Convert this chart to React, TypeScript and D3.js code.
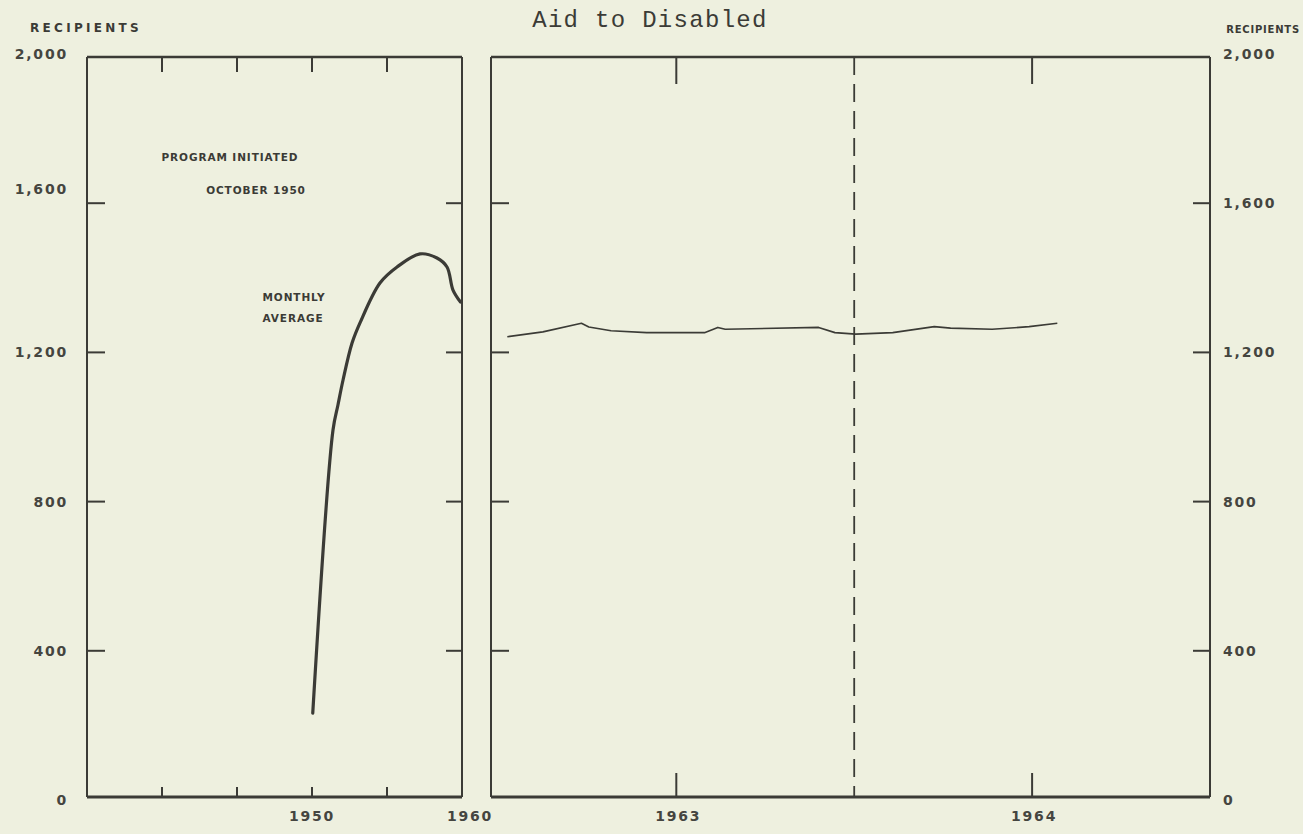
import React from "react";
import * as d3 from "d3";

// ---- Data ----
// Left panel: monthly average recipients, program initiated Oct 1950
const leftYears = [1950.05, 1951.4, 1951.73, 1952.07, 1952.67, 1953.2, 1954.53, 1955.67, 1957.2, 1958.33, 1959.0, 1959.4, 1959.9];
const leftValues = [233, 992, 1059, 1126, 1225, 1279, 1386, 1429, 1464, 1453, 1429, 1367, 1335];

// Right panel: monthly recipients, July 1962 onward (fractional month index from July 1962)
const rightMonths = [0.3, 1.5, 2.8, 3.05, 3.8, 5.0, 6.95, 7.4, 7.65, 10.8, 11.35, 12.05, 13.3, 14.7, 15.25, 16.65, 17.9, 18.85];
const rightValues = [1242, 1255, 1278, 1268, 1258, 1253, 1253, 1267, 1262, 1267, 1253, 1249, 1253, 1269, 1265, 1262, 1269, 1278];

const yTicks = [400, 800, 1200, 1600];
const yLabelValues = [0, 400, 800, 1200, 1600, 2000];
const yLabelText = ["0", "400", "800", "1,200", "1,600", "2,000"];
const leftXTicks = [1940, 1945, 1950, 1955];
const leftXLabels = [1950, 1960];
const rightXTicks = [6, 18];
const rightXLabels = ["1963", "1964"];
const fiscalDivider = 12;

const title = "Aid to Disabled";

export default function App() {
  const W = 1303, H = 834;
  const ink = "#3b3b36";
  const bg = "#eef0df";

  const y = d3.scaleLinear().domain([0, 2000]).range([800, 54]);
  const top = 57, bottom = 797;
  const xL = d3.scaleLinear().domain([1935, 1960]).range([87, 462]);
  const xR = d3.scaleLinear().domain([-0.25, 24]).range([491, 1210]);

  const lineL = d3.line<number>()
    .x((_, i) => xL(leftYears[i]))
    .y((d) => y(d))
    .curve(d3.curveCatmullRom.alpha(0.5));
  const lineR = d3.line<number>()
    .x((_, i) => xR(rightMonths[i]))
    .y((d) => y(d));

  const numFont = { fontFamily: "DejaVu Sans, sans-serif", fontSize: 14, fontWeight: 700, letterSpacing: 1.8, fill: "#45453f" };
  const recFont = { fontFamily: "DejaVu Sans, sans-serif", fontSize: 12, fontWeight: 700, letterSpacing: 3.3, fill: ink };
  const recFontR = { fontFamily: "DejaVu Sans, sans-serif", fontSize: 10, fontWeight: 700, letterSpacing: 0.8, fill: ink };
  const capFont = { fontFamily: "DejaVu Sans, sans-serif", fontSize: 10.5, fontWeight: 700, letterSpacing: 0.9, fill: ink };

  const [l0, l1] = xL.range();
  const [r0, r1] = xR.range();

  return (
    <svg width={W} height={H} style={{ position: "absolute", left: 0, top: 0, background: bg }}>
      <rect x={0} y={0} width={W} height={H} fill={bg} />
      <text x={650} y={20} textAnchor="middle" dominantBaseline="central"
        style={{ fontFamily: "Liberation Mono, monospace", fontSize: 24, letterSpacing: 1.3, fill: ink }}>{title}</text>

      {/* Left panel frame */}
      <g stroke={ink} fill="none">
        <line x1={l0} x2={l1} y1={top} y2={top} strokeWidth={2.5} />
        <line x1={l0} x2={l1} y1={bottom} y2={bottom} strokeWidth={3} />
        <line x1={l0} x2={l0} y1={top} y2={bottom} strokeWidth={2} />
        <line x1={l1} x2={l1} y1={top} y2={bottom} strokeWidth={2} />
        {leftXTicks.map((t) => (
          <g key={t}>
            <line x1={xL(t)} x2={xL(t)} y1={top} y2={top + 15} strokeWidth={2} />
            <line x1={xL(t)} x2={xL(t)} y1={bottom} y2={bottom - 10} strokeWidth={2} />
          </g>
        ))}
        {yTicks.map((t) => (
          <g key={t}>
            <line x1={l0} x2={l0 + 18} y1={y(t)} y2={y(t)} strokeWidth={2} />
            <line x1={l1} x2={l1 - 16} y1={y(t)} y2={y(t)} strokeWidth={2} />
          </g>
        ))}
        <path d={lineL(leftValues) || ""} strokeWidth={3.2} strokeLinejoin="round" strokeLinecap="round" />
      </g>

      {/* Right panel frame */}
      <g stroke={ink} fill="none">
        <line x1={r0} x2={r1} y1={top} y2={top} strokeWidth={2.5} />
        <line x1={r0} x2={r1} y1={bottom} y2={bottom} strokeWidth={3} />
        <line x1={r0} x2={r0} y1={top} y2={bottom} strokeWidth={2} />
        <line x1={r1} x2={r1} y1={top} y2={bottom} strokeWidth={2} />
        {rightXTicks.map((t) => (
          <g key={t}>
            <line x1={xR(t)} x2={xR(t)} y1={top} y2={top + 27} strokeWidth={2} />
            <line x1={xR(t)} x2={xR(t)} y1={bottom} y2={bottom - 24} strokeWidth={2} />
          </g>
        ))}
        <line x1={xR(fiscalDivider)} x2={xR(fiscalDivider)} y1={top} y2={bottom}
          strokeWidth={1.8} strokeDasharray="18 9" />
        {yTicks.map((t) => (
          <g key={t}>
            <line x1={r0} x2={r0 + 18} y1={y(t)} y2={y(t)} strokeWidth={2} />
            <line x1={r1} x2={r1 - 17} y1={y(t)} y2={y(t)} strokeWidth={2} />
          </g>
        ))}
        <path d={lineR(rightValues) || ""} strokeWidth={1.6} strokeLinejoin="round" />
      </g>

      {/* Y labels */}
      <text x={30} y={28} dominantBaseline="central" style={recFont}>RECIPIENTS</text>
      <text x={1300} y={29} textAnchor="end" dominantBaseline="central" style={recFontR}>RECIPIENTS</text>
      {yLabelValues.map((v, i) => (
        <g key={v}>
          <text x={68} y={v === 1600 ? y(v) - 14 : y(v)} textAnchor="end" dominantBaseline="central" style={numFont}>{yLabelText[i]}</text>
          <text x={1223} y={y(v)} textAnchor="start" dominantBaseline="central" style={numFont}>{yLabelText[i]}</text>
        </g>
      ))}

      {/* X labels */}
      {leftXLabels.map((v) => (
        <text key={v} x={v === 1960 ? xL(v) + 8 : xL(v)} y={816} textAnchor="middle" dominantBaseline="central" style={numFont}>{v}</text>
      ))}
      {rightXTicks.map((t, i) => (
        <text key={t} x={xR(t) + 2} y={816} textAnchor="middle" dominantBaseline="central" style={numFont}>{rightXLabels[i]}</text>
      ))}

      {/* Annotations */}
      <text x={230} y={157} textAnchor="middle" dominantBaseline="central" style={capFont}>PROGRAM INITIATED</text>
      <text x={256} y={190} textAnchor="middle" dominantBaseline="central" style={capFont}>OCTOBER 1950</text>
      <text x={294} y={297} textAnchor="middle" dominantBaseline="central" style={capFont}>MONTHLY</text>
      <text x={293} y={318} textAnchor="middle" dominantBaseline="central" style={capFont}>AVERAGE</text>
    </svg>
  );
}
